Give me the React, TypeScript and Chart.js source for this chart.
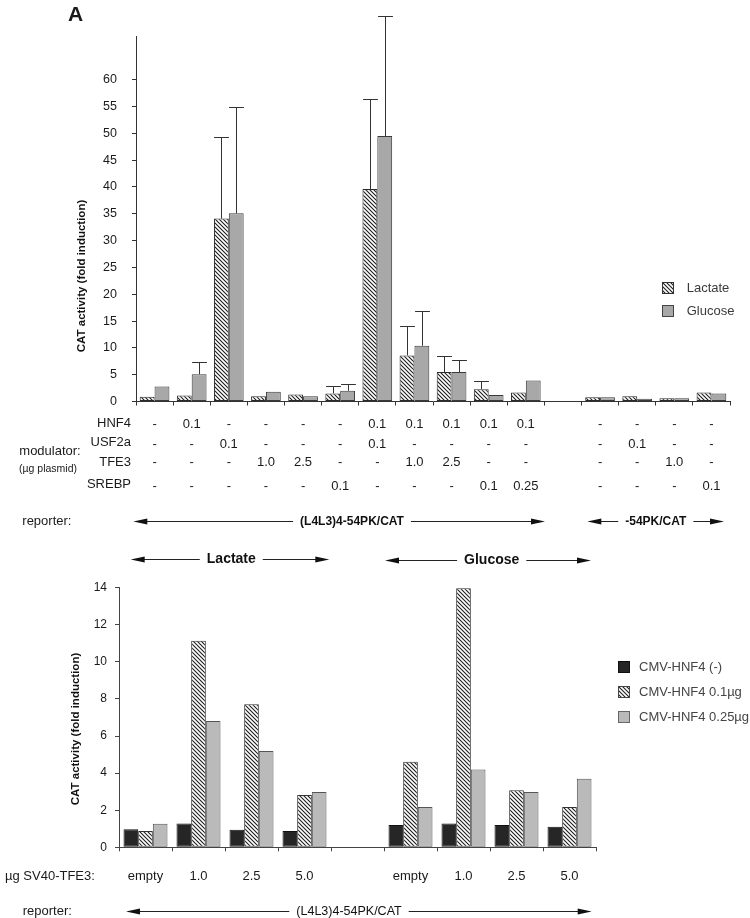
import React, { useEffect, useRef } from "react";
import { Chart, registerables } from "chart.js";
Chart.register(...registerables);

const FONT = '"Liberation Sans", Arial, Helvetica, sans-serif';

// ---------- Top panel data ----------
const topCategories = ["1", "2", "3", "4", "5", "6", "7", "8", "9", "10", "11", "", "13", "14", "15", "16"];
const lactateMeans = [0.9, 1.1, 34.1, 1.0, 1.3, 1.5, 39.6, 8.6, 5.5, 2.3, 1.7, null, 0.8, 1.0, 0.6, 1.7];
const glucoseMeans = [2.8, 5.1, 35.1, 1.8, 1.0, 2.0, 49.5, 10.4, 5.5, 1.2, 3.9, null, 0.8, 0.5, 0.6, 1.5];
const lactateErr = [0, 0, 15.2, 0, 0, 1.3, 16.8, 5.5, 2.9, 1.6, 0, 0, 0, 0, 0, 0];
const glucoseErr = [0, 2.2, 19.9, 0, 0, 1.3, 22.4, 6.5, 2.3, 0, 0, 0, 0, 0, 0, 0];
const topYMax = 68;
const topYTickMax = 60;
const topYStep = 5;
const topSeriesNames = ["Lactate", "Glucose"];

const modulatorNames = ["HNF4", "USF2a", "TFE3", "SREBP"];
const hnf4Row = ["-", "0.1", "-", "-", "-", "-", "0.1", "0.1", "0.1", "0.1", "0.1", "", "-", "-", "-", "-"];
const usf2aRow = ["-", "-", "0.1", "-", "-", "-", "0.1", "-", "-", "-", "-", "", "-", "0.1", "-", "-"];
const tfe3Row = ["-", "-", "-", "1.0", "2.5", "-", "-", "1.0", "2.5", "-", "-", "", "-", "-", "1.0", "-"];
const srebpRow = ["-", "-", "-", "-", "-", "0.1", "-", "-", "-", "0.1", "0.25", "", "-", "-", "-", "0.1"];

// ---------- Bottom panel data ----------
const tfe3Doses = ["empty", "1.0", "2.5", "5.0", "", "empty", "1.0", "2.5", "5.0"];
const hnf4None = [0.97, 1.29, 0.95, 0.88, null, 1.2, 1.29, 1.2, 1.11];
const hnf4Low = [0.88, 11.14, 7.71, 2.82, null, 4.62, 13.97, 3.07, 2.17];
const hnf4High = [1.27, 6.81, 5.19, 2.98, null, 2.17, 4.19, 2.98, 3.7];
const bottomSeriesNames = ["CMV-HNF4 (-)", "CMV-HNF4 0.1\u00b5g", "CMV-HNF4 0.25\u00b5g"];
const bottomYMax = 14;
const bottomYStep = 2;

const Y_TITLE = "CAT activity (fold induction)";

function hatchPattern(ctx: CanvasRenderingContext2D) {
  const size = 4;
  const c = document.createElement("canvas");
  c.width = size;
  c.height = size;
  const x = c.getContext("2d")!;
  x.fillStyle = "#ffffff";
  x.fillRect(0, 0, size, size);
  x.strokeStyle = "#1e1e1e";
  x.lineWidth = 1.1;
  x.beginPath();
  x.moveTo(-1, -1);
  x.lineTo(size + 1, size + 1);
  x.moveTo(-1, size - 1);
  x.lineTo(1, size + 1);
  x.moveTo(size - 1, -1);
  x.lineTo(size + 1, 1);
  x.stroke();
  return ctx.createPattern(c, "repeat")!;
}

function drawArrow(
  ctx: CanvasRenderingContext2D,
  x1: number,
  x2: number,
  y: number,
  label: string,
  cx: number,
  font: string
) {
  ctx.save();
  ctx.font = font;
  const w = ctx.measureText(label).width;
  const gap = 7;
  const head = 14;
  const hw = 3;
  ctx.strokeStyle = "#222";
  ctx.fillStyle = "#111";
  ctx.lineWidth = 1;
  ctx.beginPath();
  ctx.moveTo(x1 + head - 1, y);
  ctx.lineTo(cx - w / 2 - gap, y);
  ctx.moveTo(cx + w / 2 + gap, y);
  ctx.lineTo(x2 - head + 1, y);
  ctx.stroke();
  ctx.beginPath();
  ctx.moveTo(x1, y);
  ctx.lineTo(x1 + head, y - hw);
  ctx.lineTo(x1 + head, y + hw);
  ctx.closePath();
  ctx.fill();
  ctx.beginPath();
  ctx.moveTo(x2, y);
  ctx.lineTo(x2 - head, y - hw);
  ctx.lineTo(x2 - head, y + hw);
  ctx.closePath();
  ctx.fill();
  ctx.textAlign = "center";
  ctx.textBaseline = "middle";
  ctx.fillStyle = "#111";
  ctx.fillText(label, cx, y);
  ctx.restore();
}

function drawText(
  ctx: CanvasRenderingContext2D,
  text: string,
  x: number,
  y: number,
  font: string,
  align: CanvasTextAlign = "left",
  color = "#1a1a1a"
) {
  ctx.save();
  ctx.font = font;
  ctx.fillStyle = color;
  ctx.textAlign = align;
  ctx.textBaseline = "middle";
  ctx.fillText(text, x, y);
  ctx.restore();
}

function drawVerticalTitle(ctx: CanvasRenderingContext2D, text: string, x: number, y: number) {
  ctx.save();
  ctx.translate(x, y);
  ctx.rotate(-Math.PI / 2);
  ctx.font = `bold 11.5px ${FONT}`;
  ctx.fillStyle = "#111";
  ctx.textAlign = "center";
  ctx.textBaseline = "middle";
  ctx.fillText(text, 0, 0);
  ctx.restore();
}

function swatch(ctx: CanvasRenderingContext2D, x: number, y: number, fill: any, border: string) {
  ctx.save();
  ctx.fillStyle = fill;
  ctx.fillRect(x, y, 12, 12);
  ctx.strokeStyle = border;
  ctx.lineWidth = 1;
  ctx.strokeRect(x + 0.5, y + 0.5, 11, 11);
  ctx.restore();
}

const errorBarsPlugin = {
  id: "errorBars",
  afterDatasetsDraw(chart: any) {
    const { ctx } = chart;
    const yScale = chart.scales.y;
    chart.data.datasets.forEach((ds: any, di: number) => {
      const errs = ds.errors as number[] | undefined;
      if (!errs) return;
      const meta = chart.getDatasetMeta(di);
      meta.data.forEach((bar: any, i: number) => {
        const v = ds.data[i];
        const e = errs[i];
        if (v == null || !e) return;
        const top = Math.round(yScale.getPixelForValue(v + e)) + 0.5;
        const x = Math.round(bar.x) + 0.5;
        const w = bar.width;
        ctx.save();
        ctx.strokeStyle = "#333";
        ctx.lineWidth = 1;
        ctx.beginPath();
        ctx.moveTo(x, bar.y);
        ctx.lineTo(x, top);
        ctx.moveTo(x - w / 2, top);
        ctx.lineTo(x + w / 2, top);
        ctx.stroke();
        ctx.restore();
      });
    });
  },
};

function makeTop(canvas: HTMLCanvasElement) {
  const ctx = canvas.getContext("2d")!;
  const hatch = hatchPattern(ctx);
  const gray = "#a8a8a8";
  const rows = [hnf4Row, usf2aRow, tfe3Row, srebpRow];
  const labelY = [423.5, 442.7, 462.3, 484.3];
  const valueY = [424.5, 444.5, 462.7, 486.5];

  const annotations = {
    id: "topAnnotations",
    afterDraw(chart: any) {
      const c = chart.ctx as CanvasRenderingContext2D;
      const xs = chart.scales.x;
      drawText(c, "A", 68, 15, `bold 21px ${FONT}`);
      drawVerticalTitle(c, Y_TITLE, 81.7, 276);
      // legend
      swatch(c, 662, 282, hatch, "#333");
      drawText(c, topSeriesNames[0], 686.7, 288, `13px ${FONT}`, "left", "#3a3a3a");
      swatch(c, 662, 305, gray, "#444");
      drawText(c, topSeriesNames[1], 686.7, 311.5, `13px ${FONT}`, "left", "#3a3a3a");
      // modulator table
      modulatorNames.forEach((name, r) => {
        drawText(c, name, 131, labelY[r], `13px ${FONT}`, "right");
        rows[r].forEach((val, i) => {
          if (!val) return;
          drawText(c, val, xs.getPixelForValue(i), valueY[r], `13px ${FONT}`, "center");
        });
      });
      drawText(c, "modulator:", 19.3, 451, `13px ${FONT}`);
      drawText(c, "(\u00b5g plasmid)", 19, 469.5, `10.5px ${FONT}`);
      drawText(c, "reporter:", 22.3, 521, `13px ${FONT}`);
      drawArrow(c, 133.3, 545, 521.5, "(L4L3)4-54PK/CAT", 352, `bold 12px ${FONT}`);
      drawArrow(c, 587.3, 724, 521.5, "-54PK/CAT", 655.8, `bold 12px ${FONT}`);
    },
  };

  return new Chart(canvas, {
    type: "bar",
    data: {
      labels: topCategories,
      datasets: [
        {
          label: topSeriesNames[0],
          data: lactateMeans,
          errors: lactateErr,
          backgroundColor: hatch,
          borderColor: "#2a2a2a",
          borderWidth: 1,
          borderSkipped: false,
        } as any,
        {
          label: topSeriesNames[1],
          data: glucoseMeans,
          errors: glucoseErr,
          backgroundColor: gray,
          borderColor: "#3a3a3a",
          borderWidth: 1,
          borderSkipped: false,
        } as any,
      ],
    },
    options: {
      animation: false,
      responsive: false,
      devicePixelRatio: 1,
      layout: { padding: { left: 0, right: 20, top: 36.8, bottom: 0 } },
      datasets: { bar: { categoryPercentage: 0.8, barPercentage: 1.0 } },
      plugins: { legend: { display: false }, tooltip: { enabled: false }, title: { display: false } },
      scales: {
        x: {
          type: "category",
          offset: true,
          grid: { offset: true, drawOnChartArea: false, drawTicks: true, tickLength: 4, color: "#333" },
          border: { display: true, color: "#333", width: 1 },
          ticks: { display: false },
          afterFit: (s: any) => {
            s.height = 540 - 401.5;
          },
        },
        y: {
          min: 0,
          max: topYMax,
          grid: { drawOnChartArea: false, drawTicks: true, tickLength: 4, color: "#333" },
          border: { display: true, color: "#333", width: 1 },
          ticks: { stepSize: topYStep, padding: 15, color: "#1a1a1a", font: { family: FONT, size: 12.5 } },
          afterBuildTicks: (s: any) => {
            s.ticks = s.ticks.filter((t: any) => t.value <= topYTickMax);
          },
          afterFit: (s: any) => {
            s.width = 136;
          },
        },
      },
    } as any,
    plugins: [errorBarsPlugin, annotations],
  });
}

function makeBottom(canvas: HTMLCanvasElement) {
  const ctx = canvas.getContext("2d")!;
  const hatch = hatchPattern(ctx);
  const gray = "#bababa";
  const black = "#262626";

  const annotations = {
    id: "bottomAnnotations",
    afterDraw(chart: any) {
      const c = chart.ctx as CanvasRenderingContext2D;
      drawArrow(c, 130.7, 329.3, 19.5, "Lactate", 231.3, `bold 14px ${FONT}`);
      drawArrow(c, 385, 591, 20.5, "Glucose", 491.7, `bold 14px ${FONT}`);
      drawVerticalTitle(c, Y_TITLE, 76.3, 189);
      swatch(c, 618, 121, black, "#111");
      drawText(c, bottomSeriesNames[0], 639, 127, `13px ${FONT}`, "left", "#444");
      swatch(c, 618, 146, hatch, "#444");
      drawText(c, bottomSeriesNames[1], 639, 152, `13px ${FONT}`, "left", "#444");
      swatch(c, 618, 171, gray, "#666");
      drawText(c, bottomSeriesNames[2], 639, 177, `13px ${FONT}`, "left", "#444");
      drawText(c, "\u00b5g SV40-TFE3:", 5, 336, `13px ${FONT}`);
      drawText(c, "reporter:", 22.7, 371, `13px ${FONT}`);
      drawArrow(c, 126, 591.7, 371.5, "(L4L3)4-54PK/CAT", 349, `12.5px ${FONT}`);
    },
  };

  return new Chart(canvas, {
    type: "bar",
    data: {
      labels: tfe3Doses,
      datasets: [
        {
          label: bottomSeriesNames[0],
          data: hnf4None,
          backgroundColor: black,
          borderColor: "#111",
          borderWidth: 1,
          borderSkipped: false,
        },
        {
          label: bottomSeriesNames[1],
          data: hnf4Low,
          backgroundColor: hatch,
          borderColor: "#333",
          borderWidth: 1,
          borderSkipped: false,
        },
        {
          label: bottomSeriesNames[2],
          data: hnf4High,
          backgroundColor: gray,
          borderColor: "#555",
          borderWidth: 1,
          borderSkipped: false,
        },
      ],
    },
    options: {
      animation: false,
      responsive: false,
      devicePixelRatio: 1,
      layout: { padding: { left: 0, right: 154, top: 47.7, bottom: 0 } },
      datasets: { bar: { categoryPercentage: 0.83, barPercentage: 1.0 } },
      plugins: { legend: { display: false }, tooltip: { enabled: false }, title: { display: false } },
      scales: {
        x: {
          type: "category",
          offset: true,
          grid: { offset: true, drawOnChartArea: false, drawTicks: true, tickLength: 4, color: "#444" },
          border: { display: true, color: "#444", width: 1 },
          ticks: {
            autoSkip: false,
            maxRotation: 0,
            padding: 17,
            color: "#1a1a1a",
            font: { family: FONT, size: 13 },
          },
          afterFit: (s: any) => {
            s.height = 378 - 307.3;
          },
        },
        y: {
          min: 0,
          max: bottomYMax,
          grid: { drawOnChartArea: false, drawTicks: true, tickLength: 4, color: "#444" },
          border: { display: true, color: "#444", width: 1 },
          ticks: { stepSize: bottomYStep, padding: 8, color: "#1a1a1a", font: { family: FONT, size: 12 } },
          afterFit: (s: any) => {
            s.width = 119;
          },
        },
      },
    } as any,
    plugins: [annotations],
  });
}

export default function App() {
  const topRef = useRef<HTMLCanvasElement>(null);
  const botRef = useRef<HTMLCanvasElement>(null);

  useEffect(() => {
    const c1 = makeTop(topRef.current!);
    const c2 = makeBottom(botRef.current!);
    return () => {
      c1.destroy();
      c2.destroy();
    };
  }, []);

  return (
    <div style={{ position: "absolute", left: 0, top: 0, width: 750, height: 918, background: "#fff", overflow: "hidden" }}>
      <canvas
        ref={topRef}
        width={750}
        height={540}
        style={{ position: "absolute", left: 0, top: 0, width: 750, height: 540 }}
      />
      <canvas
        ref={botRef}
        width={750}
        height={378}
        style={{ position: "absolute", left: 0, top: 540, width: 750, height: 378 }}
      />
    </div>
  );
}
